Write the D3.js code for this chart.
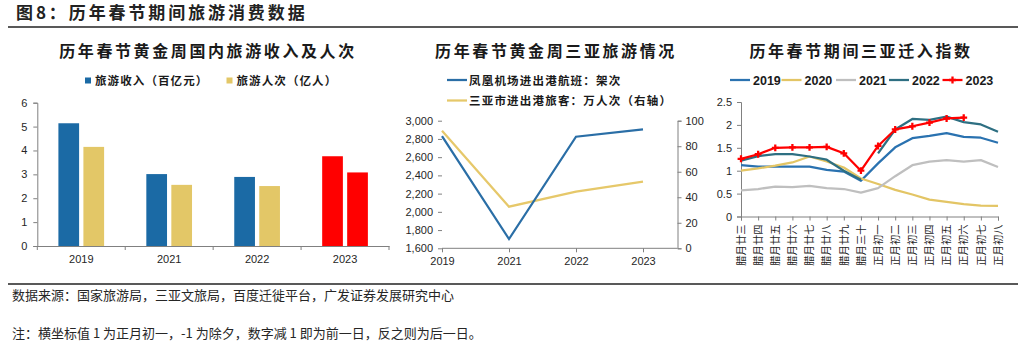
<!DOCTYPE html>
<html><head><meta charset="utf-8">
<script src="https://cdn.jsdelivr.net/npm/d3@7/dist/d3.min.js"></script>
<style>
html,body{margin:0;padding:0;background:#fff;}
svg{display:block;}
.cjk{font-family:"Noto Sans CJK SC","Noto Sans CJK TC",sans-serif;}
.num{font-family:"Liberation Sans",Arial,sans-serif;}
</style></head>
<body>
<svg id="c" width="1032" height="353"></svg>
<script>
// ---------- data ----------
const mainTitle = "图8：历年春节期间旅游消费数据";
const sourceText = "数据来源：国家旅游局，三亚文旅局，百度迁徙平台，广发证券发展研究中心";
const noteText = "注：横坐标值 1 为正月初一，-1 为除夕，数字减 1 即为前一日，反之则为后一日。";

// chart 1
const c1Title = "历年春节黄金周国内旅游收入及人次";
const c1Years = ["2019", "2021", "2022", "2023"];
const c1Income = [5.139, 3.011, 2.892, 3.758];   // 百亿元
const c1Visitors = [4.15, 2.56, 2.51, 3.08];     // 亿人
const c1SeriesNames = ["旅游收入（百亿元）", "旅游人次（亿人）"];
const c1Ticks = [0, 1, 2, 3, 4, 5, 6];

// chart 2
const c2Title = "历年春节黄金周三亚旅游情况";
const c2Years = ["2019", "2021", "2022", "2023"];
const c2Flights = [2832, 1702, 2824, 2905];      // 架次
const c2Passengers = [92.2, 32.6, 44.4, 52.2];   // 万人次（右轴）
const c2SeriesNames = ["凤凰机场进出港航班：架次", "三亚市进出港旅客：万人次（右轴）"];
const c2LeftTicks = [1600, 1800, 2000, 2200, 2400, 2600, 2800, 3000];
const c2RightTicks = [0, 20, 40, 60, 80, 100];

// chart 3
const c3Title = "历年春节期间三亚迁入指数";
const c3Days = ["腊月廿三","腊月廿四","腊月廿五","腊月廿六","腊月廿七","腊月廿八","腊月廿九","腊月三十",
                "正月初一","正月初二","正月初三","正月初四","正月初五","正月初六","正月初七","正月初八"];
const c3Names = ["2019", "2020", "2021", "2022", "2023"];
const s2019 = [1.12,1.09,1.09,1.09,1.09,1.02,0.98,0.78,1.16,1.51,1.71,1.76,1.82,1.74,1.72,1.61];
const s2020 = [1.00,1.05,1.11,1.18,1.31,1.20,1.07,0.83,0.71,0.58,0.48,0.37,0.32,0.27,0.24,0.23];
const s2021 = [0.57,0.60,0.65,0.64,0.67,0.62,0.60,0.52,0.62,0.88,1.12,1.20,1.23,1.20,1.23,1.08];
const s2022a = [1.22,1.32,1.36,1.36,1.31,1.24,1.00,0.80,null,null,null,null,null,null,null,null];
const s2022b = [null,null,null,null,null,null,null,null,1.38,1.90,2.13,2.11,2.18,2.06,2.01,1.85];
const s2023 = [1.26,1.36,1.50,1.51,1.51,1.52,1.38,1.00,1.54,1.90,1.97,2.05,2.14,2.16,null,null];
const c3Ticks = [0, 0.5, 1, 1.5, 2, 2.5];

// ---------- drawing ----------
const svg = d3.select("#c");
const AX = "#808080", TXT = "#262626";
const BLUE = "#1B6AA5", YEL = "#E3C767", RED = "#FF0000";

// header
svg.append("text").attr("class","cjk").attr("x",16).attr("y",18.5)
  .attr("font-size",17).attr("font-weight","bold").attr("letter-spacing","2.9px")
  .attr("fill","#222").text(mainTitle);
svg.append("line").attr("x1",8).attr("x2",1018).attr("y1",27).attr("y2",27)
  .attr("stroke","#222").attr("stroke-width",1.5);
svg.append("line").attr("x1",8).attr("x2",1018).attr("y1",284).attr("y2",284)
  .attr("stroke","#222").attr("stroke-width",1.5);
svg.append("text").attr("class","cjk").attr("x",12).attr("y",300).attr("font-size",13)
  .attr("fill",TXT).text(sourceText);
svg.append("text").attr("class","cjk").attr("x",12).attr("y",338).attr("font-size",13)
  .attr("fill",TXT).text(noteText);

function title(cx, t){
  svg.append("text").attr("class","cjk").attr("x",cx).attr("y",57).attr("text-anchor","middle")
    .attr("font-size",16).attr("font-weight","bold").attr("letter-spacing","2.6px")
    .attr("fill","#1a1a1a").text(t);
}

// ===== chart 1 =====
title(208, c1Title);
{
  const x = d3.scaleBand().domain(c1Years).range([37.3, 389]);
  const sub = d3.scaleBand().domain([0,1]).range([x.bandwidth()*0.24, x.bandwidth()*0.24+45.7]).paddingInner(0.172);
  const y = d3.scaleLinear().domain([0,6]).range([246, 102.7]);
  const g = svg.append("g");
  const series = [c1Income, c1Visitors];
  series.forEach((vals, si) => {
    g.selectAll(null).data(c1Years).enter().append("rect")
      .attr("x", d => x(d) + sub(si))
      .attr("width", sub.bandwidth())
      .attr("y", (d,i) => y(vals[i]))
      .attr("height", (d,i) => y(0) - y(vals[i]))
      .attr("fill", (d,i) => d === "2023" ? RED : (si === 0 ? BLUE : YEL));
  });
  const ya = g.append("g").attr("transform","translate(37.3,0)")
    .call(d3.axisLeft(y).tickValues(c1Ticks).tickSize(4).tickPadding(6).tickFormat(d3.format("d")));
  const xa = g.append("g").attr("transform","translate(0,246)")
    .call(d3.axisBottom(x).tickSize(0).tickPadding(9));
  xa.selectAll(null).data(c1Years.concat(["end"])).enter().append("line")
    .attr("x1",(d,i)=> i<4 ? x(d) : x.range()[1]).attr("x2",(d,i)=> i<4 ? x(d) : x.range()[1])
    .attr("y1",0).attr("y2",4).attr("stroke",AX);
  [ya, xa].forEach(a => {
    a.select(".domain").attr("stroke",AX);
    a.selectAll(".tick line").attr("stroke",AX);
    a.selectAll("text").attr("class","num").attr("font-size",11).attr("fill",TXT);
  });
  const lg = [[85, BLUE, c1SeriesNames[0]], [226.5, YEL, c1SeriesNames[1]]];
  lg.forEach(([lx, col, t]) => {
    svg.append("rect").attr("x",lx).attr("y",77.5).attr("width",6).attr("height",6).attr("fill",col);
    svg.append("text").attr("class","cjk").attr("x",lx+10).attr("y",85).attr("font-size",11.5)
      .attr("font-weight","bold").attr("letter-spacing","1.1px").attr("fill","#1a1a1a").text(t);
  });
}

// ===== chart 2 =====
title(556, c2Title);
{
  const x = d3.scalePoint().domain(c2Years).range([442, 643]);
  const xr = 677.5;
  const yL = d3.scaleLinear().domain([1600,3000]).range([248.3,120.7]);
  const yR = d3.scaleLinear().domain([0,100]).range([248.3,120.7]);
  const g = svg.append("g");
  const la = g.append("g").attr("transform","translate(442,0)")
    .call(d3.axisLeft(yL).tickValues(c2LeftTicks).tickSize(4).tickPadding(5).tickFormat(d3.format(",")));
  la.select(".domain").remove();
  const ra = g.append("g").attr("transform",`translate(${xr},0)`)
    .call(d3.axisRight(yR).tickValues(c2RightTicks).tickSize(4).tickPadding(4).tickFormat(d3.format("d")));
  const xa = g.append("g").attr("transform","translate(0,248.3)")
    .call(d3.axisBottom(x).tickSize(4).tickPadding(5));
  xa.select(".domain").attr("d", `M${x.range()[0]},0H${xr}`);
  [la, ra, xa].forEach(a => {
    a.select(".domain").attr("stroke",AX);
    a.selectAll(".tick line").attr("stroke",AX);
    a.selectAll("text").attr("class","num").attr("font-size",11).attr("fill",TXT);
  });
  const lineL = d3.line().x((d,i)=>x(c2Years[i])).y(d=>yL(d));
  const lineR = d3.line().x((d,i)=>x(c2Years[i])).y(d=>yR(d));
  g.append("path").datum(c2Passengers).attr("d",lineR).attr("fill","none")
    .attr("stroke","#E6C86A").attr("stroke-width",2.25);
  g.append("path").datum(c2Flights).attr("d",lineL).attr("fill","none")
    .attr("stroke","#2A6EA6").attr("stroke-width",2.25);
  [[80, "#2A6EA6", c2SeriesNames[0]], [100.5, "#E6C86A", c2SeriesNames[1]]].forEach(([ly,col,t]) => {
    svg.append("line").attr("x1",447).attr("x2",467).attr("y1",ly).attr("y2",ly)
      .attr("stroke",col).attr("stroke-width",2.25);
    svg.append("text").attr("class","cjk").attr("x",469).attr("y",ly+4.5).attr("font-size",11.5)
      .attr("font-weight","bold").attr("letter-spacing","1.2px").attr("fill","#1a1a1a").text(t);
  });
}

// ===== chart 3 =====
title(861, c3Title);
{
  const x = d3.scalePoint().domain(c3Days).range([741, 998]);
  const y = d3.scaleLinear().domain([0,2.5]).range([216.5,102]);
  const g = svg.append("g");
  const ya = g.append("g").attr("transform","translate(741,0)")
    .call(d3.axisLeft(y).tickValues(c3Ticks).tickSize(4).tickPadding(5).tickFormat(d => d3.format("")(d)));
  const xa = g.append("g").attr("transform","translate(0,216.5)")
    .call(d3.axisBottom(x).tickSize(4).tickFormat(""));
  g.selectAll(null).data(c3Days).enter().append("text").attr("class","cjk")
    .attr("transform", d => `translate(${x(d)},224.5) rotate(-90)`)
    .attr("text-anchor","end").attr("dy","0.36em").attr("font-size",10.3).attr("fill",TXT).text(d=>d);
  [ya, xa].forEach(a => {
    a.select(".domain").attr("stroke",AX);
    a.selectAll(".tick line").attr("stroke",AX);
  });
  ya.selectAll("text").attr("class","num").attr("font-size",11).attr("fill",TXT);
  const line = d3.line().defined(d=>d!=null).x((d,i)=>x(c3Days[i])).y(d=>y(d));
  const cols = {"2019":"#2A72B0","2020":"#E3C565","2021":"#BFBFBF","2022":"#2E6F82","2023":RED};
  const list = [["2019",s2019],["2020",s2020],["2021",s2021],["2022",s2022a],["2022",s2022b],["2023",s2023]];
  list.forEach(([n, vals]) => {
    g.append("path").datum(vals).attr("d",line).attr("fill","none")
      .attr("stroke",cols[n]).attr("stroke-width",2.25).attr("stroke-linejoin","round");
  });
  const sym = d3.symbol().type(d3.symbolCross).size(26);
  g.selectAll(null).data(s2023.map((v,i)=>[v,i]).filter(d=>d[0]!=null)).enter().append("path")
    .attr("d",sym).attr("transform",d=>`translate(${x(c3Days[d[1]])},${y(d[0])})`).attr("fill",RED);
  const lx = [730, 781.5, 836, 889, 942.5];
  c3Names.forEach((n,i) => {
    svg.append("line").attr("x1",lx[i]).attr("x2",lx[i]+20).attr("y1",80).attr("y2",80)
      .attr("stroke",cols[n]).attr("stroke-width",2.25);
    if (n === "2023") svg.append("path").attr("d",sym).attr("transform",`translate(${lx[i]+10},80)`).attr("fill",RED);
    svg.append("text").attr("class","num").attr("x",lx[i]+23).attr("y",84.5).attr("font-size",12.5)
      .attr("font-weight","bold").attr("fill","#1a1a1a").text(n);
  });
}
</script>
</body></html>
